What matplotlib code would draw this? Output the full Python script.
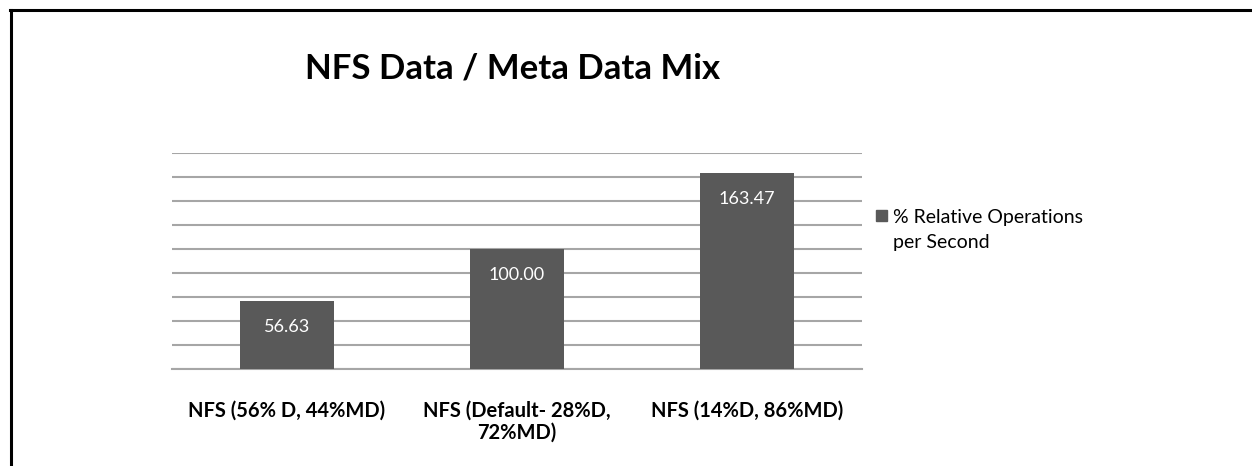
import matplotlib
matplotlib.use("Agg")
import matplotlib.pyplot as plt
from matplotlib.lines import Line2D
from matplotlib.patches import Rectangle

categories = ["NFS (56% D, 44%MD)", "NFS (Default- 28%D,\n72%MD)", "NFS (14%D, 86%MD)"]
values = [56.63, 100.00, 163.47]
series_name = "% Relative Operations\nper Second"
title = "NFS Data / Meta Data Mix"

FONT = "Lato"
BAR = "#595959"
GRID = "#a6a6a6"

fig = plt.figure(figsize=(12.52, 4.66), dpi=100)
W, H = 1252, 466

# outer border (top and left only)
fig.add_artist(Line2D([10 / W, 1], [1 - 10 / H, 1 - 10 / H], color="black", lw=2.2))
fig.add_artist(Line2D([10.5 / W, 10.5 / W], [0, 1 - 10 / H], color="black", lw=2.2))

ax = fig.add_axes([172 / W, 1 - 369 / H, (862 - 172) / W, (369 - 153) / H])
x = list(range(len(categories)))
bars = ax.bar(x, values, width=0.405, color=BAR, zorder=3)
ax.set_xlim(-0.5, len(categories) - 0.5)
ax.set_ylim(0, 180)
ax.set_yticks(range(0, 181, 20))
ax.yaxis.grid(True, color=GRID, lw=1.5, zorder=0)
ax.tick_params(axis="y", left=False, labelleft=False)
ax.tick_params(axis="x", bottom=False, pad=19)
ax.set_xticks(x)
ax.set_xticklabels(categories, fontfamily=FONT, fontweight="bold", fontsize=14.5, linespacing=1.15)
for s in ["top", "right", "left"]:
    ax.spines[s].set_visible(False)
ax.spines["bottom"].set_color(GRID)
ax.spines["bottom"].set_linewidth(1.5)

for b, v in zip(bars, values):
    ax.annotate(f"{v:.2f}", (b.get_x() + b.get_width() / 2, v), xytext=(0, -18.5),
                textcoords="offset points", ha="center", va="center",
                color="white", fontsize=13, fontfamily=FONT, zorder=4)

fig.text(513 / W, 1 - 68 / H, title, ha="center", va="center", fontsize=25,
         fontweight="bold", fontfamily=FONT)

# legend
fig.patches.append(Rectangle((876 / W, 1 - 221 / H), 11 / W, 11 / H,
                             color=BAR, transform=fig.transFigure))
for i, line in enumerate(series_name.split("\n")):
    fig.text(893 / W, 1 - (216 + 25 * i) / H, line, ha="left", va="center_baseline",
             fontsize=14, fontfamily=FONT)

fig.savefig("out.png", dpi=100)
